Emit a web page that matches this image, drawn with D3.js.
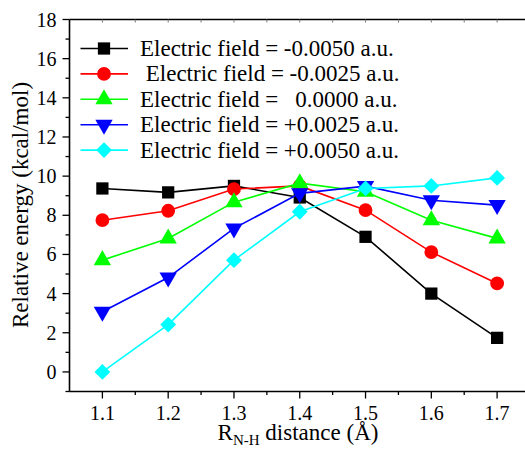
<!DOCTYPE html>
<html>
<head>
<meta charset="utf-8">
<script src="https://cdn.jsdelivr.net/npm/d3@7"></script>
<style>
  html, body { margin: 0; padding: 0; background: #fff; }
  svg { display: block; }
</style>
</head>
<body>
<svg id="chart" width="525" height="452"></svg>
<script>
// N-H distances in angstrom
const distances = [1.1, 1.2, 1.3, 1.4, 1.5, 1.6, 1.7];

// Relative energies (kcal/mol) for each applied electric field
const fieldM0050 = [9.37, 9.17, 9.50, 8.91, 6.90, 4.00, 1.74];
const fieldM0025 = [7.75, 8.23, 9.34, 9.50, 8.26, 6.12, 4.52];
const field0000  = [5.71, 6.82, 8.67, 9.64, 9.20, 7.75, 6.82];
const fieldP0025 = [3.07, 4.82, 7.33, 9.12, 9.49, 8.77, 8.52];
const fieldP0050 = [0.00, 2.42, 5.71, 8.18, 9.37, 9.50, 9.91];

const legendLabels = [
  "Electric field = -0.0050 a.u.",
  " Electric field = -0.0025 a.u.",
  "Electric field =   0.0000 a.u.",
  "Electric field = +0.0025 a.u.",
  "Electric field = +0.0050 a.u."
];

const xTicks = [1.1, 1.2, 1.3, 1.4, 1.5, 1.6, 1.7];
const xMinorTicks = [1.15, 1.25, 1.35, 1.45, 1.55, 1.65];
const yTicks = [0, 2, 4, 6, 8, 10, 12, 14, 16, 18];
const yMinorTicks = [-1, 1, 3, 5, 7, 9, 11, 13, 15, 17];

const SERIF = "Liberation Serif";

const seriesList = [
  { values: fieldM0050, color: "#000000", symbol: d3.symbolSquare,   size: 150, rot: 0 },
  { values: fieldM0025, color: "#ff0000", symbol: d3.symbolCircle,   size: 150, rot: 0 },
  { values: field0000,  color: "#00ff00", symbol: d3.symbolTriangle, size: 130, rot: 0 },
  { values: fieldP0025, color: "#0000ff", symbol: d3.symbolTriangle, size: 130, rot: 180 },
  { values: fieldP0050, color: "#00ffff", symbol: d3.symbolSquare,   size: 125, rot: 45 }
];
seriesList.forEach((s, i) => s.label = legendLabels[i]);

const svg = d3.select("#chart");

const x = d3.scaleLinear().domain([1.05, 1.75]).range([69.5, 530]);
const y = d3.scaleLinear().domain([-1, 18]).range([391.5, 19.5]);
const x0 = x(1.05), yBottom = y(-1), yTop = y(18);

// Frame lines (left, bottom, top)
svg.append("line").attr("x1", x0).attr("x2", x0).attr("y1", yTop).attr("y2", yBottom)
  .attr("stroke", "#000").attr("stroke-width", 1.6);
svg.append("line").attr("x1", x0).attr("x2", x(1.75)).attr("y1", yBottom).attr("y2", yBottom)
  .attr("stroke", "#000").attr("stroke-width", 1.6);
svg.append("line").attr("x1", x0).attr("x2", x(1.75)).attr("y1", yTop).attr("y2", yTop)
  .attr("stroke", "#000").attr("stroke-width", 1.6);

// Y ticks and labels
svg.append("g").selectAll("line").data(yTicks).join("line")
  .attr("x1", x0 - 7).attr("x2", x0).attr("y1", d => y(d)).attr("y2", d => y(d))
  .attr("stroke", "#000").attr("stroke-width", 1.3);
svg.append("g").selectAll("line").data(yMinorTicks).join("line")
  .attr("x1", x0 - 4).attr("x2", x0).attr("y1", d => y(d)).attr("y2", d => y(d))
  .attr("stroke", "#000").attr("stroke-width", 1.3);
svg.append("g").selectAll("text").data(yTicks).join("text")
  .attr("class", "serif").attr("data-size", 20)
  .attr("x", x0 - 13).attr("y", d => y(d) + 7)
  .attr("text-anchor", "end")
  .text(d => d);

// X ticks and labels
svg.append("g").selectAll("line").data(xTicks).join("line")
  .attr("x1", d => x(d)).attr("x2", d => x(d)).attr("y1", yBottom).attr("y2", yBottom + 7)
  .attr("stroke", "#000").attr("stroke-width", 1.3);
svg.append("g").selectAll("line").data(xMinorTicks).join("line")
  .attr("x1", d => x(d)).attr("x2", d => x(d)).attr("y1", yBottom).attr("y2", yBottom + 3.5)
  .attr("stroke", "#000").attr("stroke-width", 1.3);
svg.append("g").selectAll("text").data(xTicks).join("text")
  .attr("class", "serif").attr("data-size", 20)
  .attr("x", d => x(d)).attr("y", yBottom + 28.5)
  .attr("text-anchor", "middle")
  .text(d => d3.format(".1f")(d));

// Top edge: short inward ticks
svg.append("g").selectAll("line").data(xTicks.concat(xMinorTicks)).join("line")
  .attr("x1", d => x(d)).attr("x2", d => x(d)).attr("y1", yTop).attr("y2", yTop + 3)
  .attr("stroke", "#777").attr("stroke-width", 1);

// Series lines and markers
const line = d3.line().x((d, i) => x(distances[i])).y(d => y(d));
seriesList.forEach(s => {
  const g = svg.append("g");
  g.append("path").datum(s.values).attr("d", line)
    .attr("fill", "none").attr("stroke", s.color).attr("stroke-width", 1.6);
  g.selectAll("path.pt").data(s.values).join("path")
    .attr("class", "pt")
    .attr("d", d3.symbol().type(s.symbol).size(s.size))
    .attr("transform", (d, i) => `translate(${x(distances[i])},${y(d)}) rotate(${s.rot})`)
    .attr("fill", s.color);
});

// Legend
const legend = svg.append("g");
seriesList.forEach((s, i) => {
  const cy = 48.5 + i * 25.4;
  legend.append("line").attr("x1", 80.5).attr("x2", 128).attr("y1", cy).attr("y2", cy)
    .attr("stroke", s.color).attr("stroke-width", 1.6);
  legend.append("path")
    .attr("d", d3.symbol().type(s.symbol).size(s.size))
    .attr("transform", `translate(104,${cy}) rotate(${s.rot})`)
    .attr("fill", s.color);
  legend.append("text")
    .attr("class", "serif").attr("data-size", 23)
    .style("white-space", "pre")
    .attr("x", 140).attr("y", cy + 7.5)
    .text(s.label);
});

// Axis titles
svg.append("text")
  .attr("class", "serif").attr("data-size", 23)
  .attr("transform", "translate(28,205) rotate(-90)")
  .attr("text-anchor", "middle")
  .text("Relative energy (kcal/mol)");

const xt = svg.append("text")
  .attr("class", "serif").attr("data-size", 23)
  .attr("x", 298).attr("y", 440)
  .attr("text-anchor", "middle");
xt.append("tspan").text("R");
xt.append("tspan").attr("dy", 5).style("font-size", "15px").text("N-H");
xt.append("tspan").attr("dy", -5).text(" distance (\u00C5)");

// Apply the serif face to every label, and again once the font is ready
function applySerif() {
  svg.selectAll("text.serif").each(function () {
    const el = d3.select(this);
    el.style("font", `${el.attr("data-size")}px "${SERIF}", "Times New Roman", Tinos, serif`);
  });
}
applySerif();
if (document.fonts && document.fonts.load) {
  Promise.all([
    document.fonts.load(`20px "${SERIF}"`),
    document.fonts.load(`23px "${SERIF}"`)
  ]).then(applySerif).catch(() => {});
}
</script>
</body>
</html>
